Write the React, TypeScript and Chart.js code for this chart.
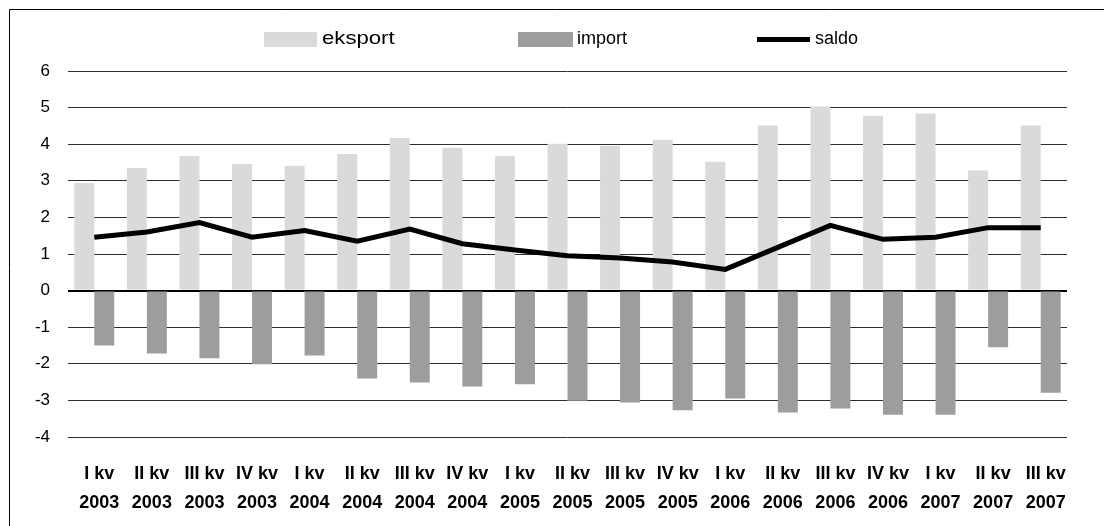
import React, { useEffect, useRef } from 'react';
import { Chart, registerables } from 'chart.js';

Chart.register(...registerables);

const quarters = ['I kv', 'II kv', 'III kv', 'IV kv', 'I kv', 'II kv', 'III kv', 'IV kv', 'I kv', 'II kv', 'III kv', 'IV kv', 'I kv', 'II kv', 'III kv', 'IV kv', 'I kv', 'II kv', 'III kv'];
const years = ['2003', '2003', '2003', '2003', '2004', '2004', '2004', '2004', '2005', '2005', '2005', '2005', '2006', '2006', '2006', '2006', '2007', '2007', '2007'];

const eksport = [2.94, 3.35, 3.68, 3.46, 3.41, 3.73, 4.17, 3.9, 3.68, 4.01, 3.96, 4.12, 3.52, 4.51, 5.03, 4.78, 4.84, 3.28, 4.51];
const importValues = [-1.5, -1.72, -1.85, -2.01, -1.77, -2.4, -2.51, -2.62, -2.56, -3.01, -3.06, -3.27, -2.95, -3.33, -3.22, -3.39, -3.39, -1.55, -2.79];
const saldo = [1.46, 1.6, 1.86, 1.46, 1.64, 1.35, 1.68, 1.28, 1.11, 0.95, 0.89, 0.78, 0.58, 1.18, 1.78, 1.4, 1.46, 1.72, 1.72];

const seriesNames = ['eksport', 'import', 'saldo'];
const yMin = -4;
const yMax = 6;

const EXPORT_COLOR = '#d9dadc';
const IMPORT_COLOR = '#9c9d9f';
const SALDO_COLOR = '#000000';
const GRID_COLOR = '#2e2e2e';

const framePlugin = {
  id: 'frame',
  beforeDraw(chart: any) {
    const ctx = chart.ctx;
    ctx.save();
    ctx.fillStyle = '#ffffff';
    ctx.fillRect(0, 0, chart.width, chart.height);
    ctx.strokeStyle = '#000000';
    ctx.lineWidth = 1;
    ctx.beginPath();
    ctx.moveTo(9.5, chart.height);
    ctx.lineTo(9.5, 9.5);
    ctx.lineTo(chart.width, 9.5);
    ctx.stroke();
    ctx.restore();
  },
};

const legendPlugin = {
  id: 'customLegend',
  afterDraw(chart: any) {
    const ctx = chart.ctx;
    ctx.save();
    ctx.font = '18px "Liberation Sans", Arial, sans-serif';
    ctx.textBaseline = 'middle';
    ctx.fillStyle = '#000';
    const cy = 39.5;
    // eksport
    ctx.fillStyle = EXPORT_COLOR;
    ctx.fillRect(264, 32, 53, 15);
    ctx.fillStyle = '#000';
    ctx.save();
    ctx.translate(322, cy);
    ctx.scale(1.23, 1);
    ctx.fillText(seriesNames[0], 0, 0);
    ctx.restore();
    // import
    ctx.fillStyle = IMPORT_COLOR;
    ctx.fillRect(518, 32, 55, 15);
    ctx.fillStyle = '#000';
    ctx.fillText(seriesNames[1], 577, cy);
    // saldo
    ctx.strokeStyle = SALDO_COLOR;
    ctx.lineWidth = 5;
    ctx.beginPath();
    ctx.moveTo(757, cy);
    ctx.lineTo(810, cy);
    ctx.stroke();
    ctx.fillText(seriesNames[2], 815, cy);
    ctx.restore();
  },
};

export default function App() {
  const canvasRef = useRef<HTMLCanvasElement | null>(null);

  useEffect(() => {
    const canvas = canvasRef.current;
    if (!canvas) return;
    const labels = quarters.map((q, i) => [q, years[i]]);
    const chart = new Chart(canvas, {
      type: 'bar',
      data: {
        labels,
        datasets: [
          {
            type: 'bar',
            label: seriesNames[0],
            data: eksport,
            backgroundColor: EXPORT_COLOR,
            borderWidth: 0,
            categoryPercentage: 0.76,
            barPercentage: 1,
            order: 1,
          },
          {
            type: 'bar',
            label: seriesNames[1],
            data: importValues,
            backgroundColor: IMPORT_COLOR,
            borderWidth: 0,
            categoryPercentage: 0.76,
            barPercentage: 1,
            order: 1,
          },
          {
            type: 'line',
            label: seriesNames[2],
            data: saldo,
            borderColor: SALDO_COLOR,
            backgroundColor: SALDO_COLOR,
            borderWidth: 5,
            pointRadius: 0,
            tension: 0,
            fill: false,
            order: -1,
          } as any,
        ],
      },
      options: {
        responsive: false,
        animation: false,
        devicePixelRatio: 1,
        layout: { padding: { top: 71, right: 37, bottom: 0, left: 0 } },
        plugins: {
          legend: { display: false },
          tooltip: { enabled: false },
          title: { display: false },
        },
        scales: {
          x: {
            grid: { display: false, drawTicks: false },
            border: { display: false },
            ticks: {
              color: '#000',
              font: { family: '"Liberation Sans", Arial, sans-serif', size: 18, weight: 'bold', lineHeight: 1.62 },
              padding: 22,
              labelOffset: 5,
              maxRotation: 0,
              autoSkip: false,
            },
            afterFit(scale: any) {
              scale.height = 89;
            },
          },
          y: {
            min: yMin,
            max: yMax,
            grid: {
              drawTicks: false,
              color: (c: any) => (c.tick && c.tick.value === 0 ? '#000000' : GRID_COLOR),
              lineWidth: (c: any) => (c.tick && c.tick.value === 0 ? 2 : 1),
            },
            border: { display: false },
            ticks: {
              stepSize: 1,
              color: '#000',
              padding: 18,
              font: { family: '"Liberation Sans", Arial, sans-serif', size: 17 },
            },
            afterFit(scale: any) {
              scale.width = 68;
            },
          },
        },
      },
      plugins: [framePlugin, legendPlugin],
    });
    return () => chart.destroy();
  }, []);

  return (
    <div style={{ position: 'absolute', left: 0, top: 0, width: 1104, height: 526, overflow: 'hidden' }}>
      <canvas ref={canvasRef} width={1104} height={526} style={{ display: 'block', width: 1104, height: 526 }} />
    </div>
  );
}
